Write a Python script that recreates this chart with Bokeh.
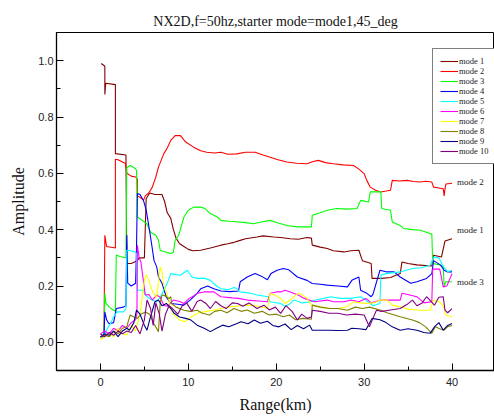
from bokeh.plotting import figure
from bokeh.models import (Range1d, SingleIntervalTicker, PrintfTickFormatter,
                          Legend, LegendItem, ColumnDataSource)
from bokeh.core.properties import value
from bokeh.embed import file_html
from bokeh.resources import INLINE

# ---- data: (range km, amplitude) ----
mode1 = [(0.1,0.99),(0.5,0.98),(0.5,0.88),(0.6,0.92),(1.7,0.915),(1.7,0.67),(2.9,0.665),(3.0,0.28),(3.5,0.28),
         (4.2,0.29),(4.4,0.30),(5.0,0.30),(5.2,0.51),(5.6,0.53),(6.2,0.525),(7.0,0.525),(7.3,0.50),(7.6,0.46),
         (8.0,0.44),(8.3,0.40),(8.6,0.37),(9.0,0.35),(9.5,0.34),(10.0,0.33),(10.5,0.325),(11.4,0.327),(12.5,0.335),
         (13.7,0.345),(14.5,0.35),(15.2,0.355),(15.9,0.362),(16.5,0.368),(17.8,0.374),(18.5,0.378),(19.7,0.374),
         (20.5,0.372),(21.6,0.368),(22.5,0.366),(23.5,0.372),(24.0,0.37),(24.1,0.345),(25.0,0.338),(25.8,0.333),
         (26.5,0.325),(27.7,0.321),(28.5,0.325),(29.4,0.327),(29.8,0.29),(30.8,0.28),(30.9,0.227),(32.0,0.227),
         (33.0,0.23),(34.1,0.244),(34.3,0.285),(35.0,0.28),(36.0,0.275),(37.7,0.271),(37.9,0.309),(38.8,0.303),
         (39.2,0.36),(40.0,0.368)]
mode2 = [(0.0,0.02),(0.4,0.02),(0.5,0.38),(0.7,0.34),(1.7,0.335),(1.7,0.65),(2.0,0.648),(2.85,0.635),(3.0,0.60),
         (3.5,0.59),(4.0,0.587),(4.2,0.58),(4.2,0.52),(4.5,0.515),(4.9,0.505),(5.1,0.52),(5.5,0.53),(5.9,0.551),
         (6.3,0.587),(6.6,0.622),(7.2,0.669),(7.6,0.69),(8.0,0.717),(8.5,0.734),(9.1,0.734),(9.7,0.711),(10.6,0.693),
         (11.4,0.68),(12.1,0.675),(13.0,0.672),(13.7,0.675),(14.5,0.668),(15.5,0.669),(16.5,0.675),(17.6,0.675),
         (18.5,0.665),(19.3,0.657),(20.2,0.648),(21.2,0.64),(22.3,0.636),(23.5,0.634),(24.2,0.642),(24.8,0.646),
         (25.6,0.638),(26.5,0.634),(27.6,0.63),(28.8,0.628),(29.4,0.615),(30.0,0.599),(30.3,0.575),(30.7,0.551),
         (31.3,0.54),(31.9,0.534),(32.5,0.537),(33.0,0.54),(33.2,0.575),(34.0,0.573),(34.9,0.575),(35.6,0.571),
         (36.4,0.569),(37.0,0.572),(37.7,0.569),(37.9,0.551),(38.5,0.548),(39.0,0.545),(39.1,0.52),(39.2,0.545),
         (39.3,0.562),(40.0,0.565)]
mode3 = [(0.0,0.02),(0.4,0.02),(0.5,0.174),(0.6,0.14),(1.0,0.125),(1.5,0.114),(1.7,0.11),(1.8,0.31),(2.2,0.305),
         (2.9,0.30),(3.0,0.62),(3.4,0.628),(4.0,0.616),(4.1,0.61),(4.2,0.445),(4.9,0.43),(5.3,0.42),(5.7,0.39),
         (6.3,0.38),(6.6,0.362),(6.8,0.327),(7.4,0.321),(8.0,0.315),(8.3,0.32),(8.5,0.362),(8.9,0.38),(9.5,0.445),
         (10.0,0.469),(10.6,0.48),(11.4,0.48),(11.9,0.475),(12.5,0.457),(13.3,0.445),(13.7,0.433),(14.6,0.43),
         (15.5,0.428),(16.5,0.425),(17.4,0.421),(18.3,0.427),(19.3,0.433),(20.2,0.424),(21.2,0.415),(22.4,0.41),
         (23.2,0.41),(24.0,0.41),(24.1,0.451),(25.0,0.46),(25.8,0.469),(26.9,0.475),(28.0,0.473),(29.2,0.475),
         (29.6,0.504),(30.5,0.498),(30.7,0.534),(31.9,0.534),(32.0,0.475),(33.0,0.469),(33.2,0.427),(34.1,0.415),
         (34.5,0.404),(35.5,0.40),(36.4,0.398),(37.0,0.392),(37.5,0.386),(37.7,0.385),(37.8,0.28),(38.6,0.275),
         (39.0,0.268),(39.1,0.20),(39.3,0.215),(40.0,0.215)]
mode4 = [(0.0,0.02),(0.4,0.02),(0.5,0.108),(0.7,0.08),(0.95,0.067),(1.5,0.07),(1.8,0.12),(2.6,0.125),(2.9,0.13),
         (3.0,0.38),(3.1,0.21),(3.5,0.2),(4.0,0.21),(4.1,0.33),(4.2,0.528),(4.5,0.525),(4.9,0.503),(5.2,0.47),
         (5.4,0.433),(5.7,0.374),(6.1,0.29),(6.4,0.268),(6.6,0.232),(7.0,0.21),(7.5,0.16),(8.0,0.138),(8.8,0.135),
         (9.5,0.132),(10.2,0.15),(11.0,0.174),(11.4,0.19),(12.2,0.2),(12.9,0.19),(13.7,0.182),(14.7,0.18),
         (15.7,0.182),(15.9,0.215),(16.7,0.232),(17.6,0.244),(18.3,0.235),(19.0,0.222),(19.4,0.244),(20.1,0.256),
         (20.8,0.262),(21.4,0.258),(22.4,0.232),(23.5,0.22),(24.1,0.209),(25.0,0.206),(25.8,0.203),(27.0,0.2),
         (28.1,0.197),(28.6,0.22),(29.4,0.232),(29.6,0.185),(30.3,0.174),(30.8,0.162),(31.0,0.17),(31.8,0.256),
         (32.6,0.25),(33.4,0.25),(34.1,0.232),(35.3,0.21),(36.0,0.215),(37.1,0.227),(37.7,0.244),(37.9,0.29),
         (38.7,0.274),(39.1,0.256),(39.5,0.25),(40.0,0.25)]
mode5 = [(0.0,0.02),(0.5,0.03),(0.8,0.05),(1.2,0.07),(1.5,0.091),(1.9,0.108),(2.6,0.108),(2.9,0.12),(3.0,0.327),
         (3.5,0.325),(4.0,0.32),(4.1,0.315),(4.2,0.185),(4.9,0.185),(5.1,0.168),(5.6,0.155),(6.4,0.144),(6.8,0.16),
         (7.2,0.185),(7.6,0.21),(8.0,0.244),(9.1,0.238),(9.9,0.256),(10.4,0.232),(11.0,0.227),(11.8,0.228),
         (12.5,0.22),(13.2,0.2),(13.7,0.19),(14.5,0.187),(15.2,0.195),(15.5,0.191),(15.9,0.179),(17.1,0.174),
         (17.8,0.168),(19.1,0.162),(19.3,0.144),(20.5,0.138),(21.0,0.127),(21.6,0.138),(22.0,0.15),(23.0,0.14),
         (23.9,0.144),(24.5,0.15),(25.4,0.156),(26.2,0.162),(27.3,0.156),(28.4,0.156),(29.6,0.162),(30.2,0.15),
         (31.0,0.13),(31.8,0.138),(31.9,0.238),(32.5,0.244),(34.1,0.25),(35.5,0.262),(36.5,0.265),(37.5,0.274),
         (37.9,0.303),(38.5,0.3),(39.0,0.27),(39.5,0.25),(40.0,0.256)]
mode6 = [(0.0,0.03),(0.5,0.04),(1.0,0.03),(1.5,0.05),(2.0,0.04),(2.5,0.06),(3.0,0.05),(3.5,0.07),(4.0,0.08),
         (4.15,0.10),(4.2,0.345),(4.4,0.30),(4.6,0.286),(4.9,0.215),(5.1,0.168),(5.5,0.17),(5.9,0.15),(6.4,0.168),
         (6.8,0.16),(7.2,0.132),(7.6,0.128),(8.3,0.15),(9.0,0.145),(9.5,0.138),(10.1,0.156),(10.6,0.165),(11.0,0.174),
         (11.8,0.179),(12.9,0.179),(13.7,0.162),(15.0,0.158),(15.7,0.156),(16.7,0.15),(18.0,0.147),(19.0,0.144),
         (19.3,0.174),(20.0,0.179),(20.5,0.179),(21.0,0.185),(21.6,0.179),(22.5,0.168),(23.2,0.156),(24.3,0.144),
         (25.8,0.15),(26.5,0.144),(27.7,0.144),(28.5,0.15),(29.4,0.144),(30.2,0.156),(30.8,0.14),(31.9,0.15),
         (33.0,0.15),(34.1,0.15),(34.3,0.174),(35.2,0.168),(36.0,0.162),(36.8,0.14),(37.7,0.144),(37.8,0.26),
         (38.6,0.26),(39.0,0.197),(39.4,0.2),(40.0,0.244)]
mode7 = [(0.0,0.01),(0.5,0.02),(1.0,0.03),(1.5,0.02),(2.0,0.05),(2.5,0.03),(3.0,0.026),(3.5,0.06),(4.0,0.04),
         (4.5,0.1),(5.0,0.22),(5.2,0.24),(5.5,0.22),(5.8,0.19),(6.1,0.17),(6.4,0.16),(6.8,0.268),(7.0,0.25),
         (7.2,0.203),(7.6,0.17),(8.0,0.126),(8.3,0.10),(9.0,0.079),(9.6,0.073),(10.1,0.085),(11.0,0.103),(12.0,0.11),
         (12.9,0.114),(13.7,0.12),(14.7,0.126),(15.9,0.13),(17.0,0.132),(18.0,0.128),(19.0,0.12),(19.3,0.174),
         (20.0,0.165),(20.5,0.156),(21.0,0.138),(21.6,0.15),(22.0,0.162),(22.5,0.174),(23.0,0.168),(23.5,0.156),
         (24.0,0.132),(25.0,0.126),(26.0,0.12),(27.0,0.12),(28.0,0.126),(28.8,0.144),(29.5,0.14),(30.3,0.138),
         (31.0,0.14),(31.9,0.15),(32.6,0.15),(33.2,0.132),(34.1,0.126),(35.0,0.118),(36.4,0.114),(37.5,0.114),
         (37.9,0.15),(38.5,0.145),(39.0,0.13),(39.3,0.097),(40.0,0.09)]
mode8 = [(0.0,0.02),(0.5,0.025),(1.0,0.02),(1.5,0.04),(2.0,0.03),(2.5,0.05),(3.0,0.055),(3.2,0.079),(3.4,0.097),
         (3.8,0.09),(4.2,0.085),(4.6,0.1),(5.1,0.108),(5.6,0.1),(6.0,0.07),(6.6,0.038),(6.8,0.14),(7.0,0.168),
         (7.4,0.165),(7.8,0.155),(8.0,0.162),(8.1,0.138),(8.6,0.125),(9.5,0.114),(10.2,0.11),(11.0,0.114),
         (11.6,0.103),(12.4,0.097),(13.0,0.11),(13.7,0.114),(14.4,0.105),(15.2,0.12),(16.0,0.11),(16.7,0.115),
         (17.5,0.103),(18.4,0.11),(19.2,0.097),(20.0,0.1),(20.8,0.091),(21.5,0.097),(22.2,0.08),(23.0,0.085),
         (24.0,0.082),(24.1,0.132),(25.0,0.125),(26.1,0.12),(27.0,0.12),(28.1,0.114),(29.0,0.125),(29.8,0.12),
         (30.6,0.125),(31.9,0.114),(32.6,0.105),(34.1,0.091),(35.5,0.079),(36.3,0.07),(37.0,0.055),(37.7,0.032),
         (38.1,0.055),(38.6,0.048),(39.1,0.043),(39.5,0.055),(40.0,0.06)]
mode9 = [(0.0,0.02),(0.5,0.03),(1.0,0.025),(1.5,0.04),(2.0,0.02),(2.5,0.04),(3.0,0.05),(3.3,0.043),(3.8,0.07),
         (4.1,0.114),(4.5,0.10),(5.0,0.06),(5.3,0.043),(5.6,0.08),(6.2,0.144),(6.6,0.15),(7.0,0.13),(7.5,0.138),
         (8.0,0.12),(8.4,0.103),(9.0,0.09),(9.7,0.085),(10.3,0.079),(11.0,0.061),(11.8,0.05),(12.5,0.038),
         (13.2,0.05),(13.9,0.061),(14.6,0.055),(15.4,0.065),(16.0,0.073),(16.8,0.066),(17.5,0.079),(18.2,0.068),
         (19.0,0.075),(19.6,0.06),(20.3,0.055),(21.0,0.065),(21.7,0.045),(22.4,0.06),(23.1,0.048),(23.8,0.061),
         (24.1,0.043),(25.0,0.043),(26.0,0.043),(27.0,0.042),(28.1,0.043),(28.6,0.05),(29.4,0.048),(30.2,0.045),
         (30.9,0.085),(31.8,0.08),(32.5,0.07),(33.2,0.055),(34.1,0.043),(35.0,0.048),(36.0,0.043),(36.8,0.035),
         (37.5,0.032),(38.0,0.055),(38.5,0.07),(39.0,0.043),(39.5,0.06),(40.0,0.067)]
mode10 = [(0.0,0.03),(0.5,0.02),(1.0,0.035),(1.5,0.025),(2.0,0.04),(2.5,0.03),(3.0,0.04),(3.5,0.035),(4.0,0.06),
          (4.5,0.03),(5.0,0.08),(5.3,0.15),(5.7,0.12),(6.0,0.06),(6.3,0.14),(6.7,0.10),(7.0,0.04),(7.4,0.1),
          (7.8,0.13),(8.2,0.12),(8.8,0.1),(9.3,0.13),(9.8,0.14),(10.4,0.11),(11.0,0.145),(11.4,0.15),(12.0,0.138),
          (12.5,0.12),(13.1,0.145),(13.7,0.13),(14.3,0.12),(15.0,0.14),(15.6,0.138),(16.2,0.128),(16.9,0.14),
          (17.8,0.12),(18.6,0.132),(19.2,0.115),(19.9,0.125),(20.5,0.103),(21.1,0.13),(21.8,0.11),(22.4,0.079),
          (22.9,0.1),(23.5,0.085),(24.0,0.09),(24.1,0.114),(25.0,0.11),(26.0,0.103),(27.0,0.103),(28.0,0.097),
          (29.0,0.1),(30.0,0.097),(30.6,0.055),(31.0,0.085),(31.4,0.114),(32.0,0.11),(33.0,0.115),(34.1,0.12),
          (34.9,0.135),(35.5,0.15),(36.0,0.13),(36.6,0.14),(37.1,0.162),(37.6,0.145),(38.0,0.132),(38.5,0.16),
          (39.0,0.162),(39.2,0.114),(39.5,0.105),(40.0,0.12)]

series_names = ["mode 1", "mode 2", "mode 3", "mode 4", "mode 5",
                "mode 6", "mode 7", "mode 8", "mode 9", "mode 10"]
series_data = [mode1, mode2, mode3, mode4, mode5, mode6, mode7, mode8, mode9, mode10]
series_colors = ["#800000", "#FF0000", "#00FF00", "#0000FF", "#00FFFF",
                 "#FF00FF", "#FFFF00", "#808000", "#000080", "#800080"]

end_labels = ["mode 2", "mode 1", "mode 3"]
end_label_series = [1, 0, 2]
end_label_dy = [-1, -9, 0]   # pixel nudges of the label text

title_text = "NX2D,f=50hz,starter mode=mode1,45_deg"

SERIF = "Liberation Serif"
SANS = "Liberation Sans"

p = figure(width=494, height=420, output_backend="svg", toolbar_location=None,
           x_range=Range1d(-5, 44.83), y_range=Range1d(-0.1, 1.1),
           min_border_left=56, min_border_right=0, min_border_top=32, min_border_bottom=50,
           background_fill_color="white", border_fill_color="white")

p.title.text = title_text
p.title.text_font = SERIF
p.title.text_font_size = "14px"
p.title.text_font_style = "normal"
p.title.align = "center"
p.title.offset = 5
p.title.standoff = 8
p.title.text_color = "#111111"

p.grid.visible = False
p.outline_line_color = "black"
p.outline_line_width = 1

# axes
p.xaxis.ticker = SingleIntervalTicker(interval=10, num_minor_ticks=2)
p.yaxis.ticker = SingleIntervalTicker(interval=0.2, num_minor_ticks=2)
p.yaxis.formatter = PrintfTickFormatter(format="%.1f")
for ax in (p.xaxis[0], p.yaxis[0]):
    ax.major_tick_in = 7
    ax.major_tick_out = 0
    ax.minor_tick_in = 4
    ax.minor_tick_out = 0
    ax.axis_line_color = "black"
    ax.axis_line_width = 1.3
    ax.major_tick_line_color = "black"
    ax.minor_tick_line_color = "black"
    ax.major_label_text_font = SANS
    ax.major_label_text_font_size = "11px"
    ax.major_label_text_color = "#222222"
    ax.axis_label_text_font = SERIF
    ax.axis_label_text_font_size = "16px"
    ax.axis_label_text_font_style = "normal"
    ax.axis_label_text_color = "#111111"
p.xaxis.axis_label = "Range(km)"
p.yaxis.axis_label = "Amplitude"
p.xaxis.major_label_standoff = 7
p.yaxis.major_label_standoff = 3
p.xaxis.axis_label_standoff = 7
p.yaxis.axis_label_standoff = 8

renderers = []
for name, data, color in zip(series_names, series_data, series_colors):
    xs = [pt[0] for pt in data]
    ys = [pt[1] for pt in data]
    r = p.line(xs, ys, line_color=color, line_width=1.1)
    renderers.append(r)

# end-of-line labels taken from each series' last point
lab_src = ColumnDataSource(dict(
    x=[series_data[i][-1][0] for i in end_label_series],
    y=[series_data[i][-1][1] for i in end_label_series],
    text=end_labels,
    dy=end_label_dy,
))
p.text(x="x", y="y", text="text", source=lab_src, x_offset=5, y_offset="dy",
       text_font=value(SERIF), text_font_size="9px", text_baseline="middle",
       text_align="left", text_color="#222222")

legend = Legend(items=[LegendItem(label=n, renderers=[r]) for n, r in zip(series_names, renderers)],
                location=(376, 206), orientation="vertical",
                label_text_font=SERIF, label_text_font_size="8.5px", label_text_color="#222222",
                label_height=10, glyph_height=10, glyph_width=18, label_standoff=1,
                spacing=0, padding=7, margin=0,
                border_line_color="black", border_line_width=1,
                background_fill_color="white", background_fill_alpha=1)
p.add_layout(legend, "center")

open("out.html", "w").write(file_html(p, INLINE))
